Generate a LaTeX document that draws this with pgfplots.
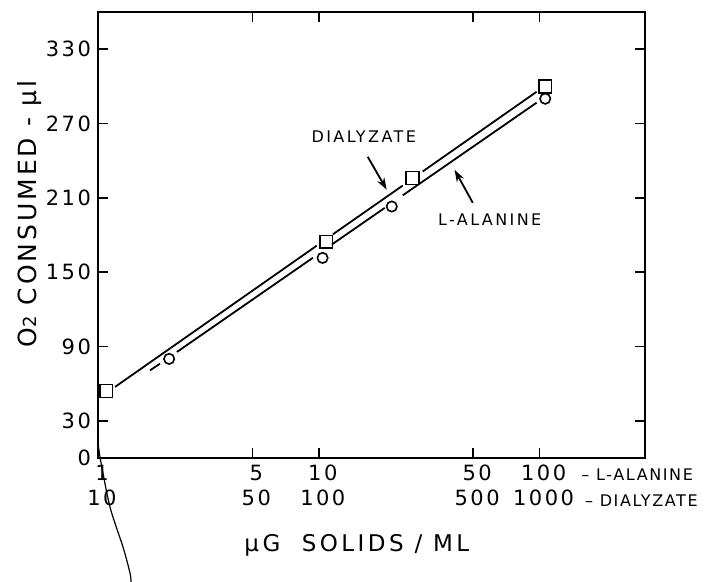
\documentclass[border=0pt]{standalone}
\usepackage{fontspec}
\setmainfont{DejaVu Sans}
\newfontfamily\spaced[LetterSpace=15]{DejaVu Sans}
\newfontfamily\smallspaced[LetterSpace=10]{DejaVu Sans}
\newfontfamily\wide[LetterSpace=12]{DejaVu Sans}
\usepackage{pgfplots}
\pgfplotsset{compat=1.18}
\usetikzlibrary{arrows.meta}
\begin{document}
\begin{tikzpicture}
\path[use as bounding box] (-49pt,-62pt) rectangle (305.5pt,229pt);
\begin{axis}[
  at={(0,0)}, anchor=south west,
  scale only axis, width=273.5pt, height=223pt,
  xmode=log, log basis x=10, xmin=1, xmax=300, ymin=0, ymax=360,
  clip=false,
  axis line style={line width=0.8pt},
  tick style={line width=0.8pt, black},
  major tick length=5pt,
  tick align=inside,
  xminorticks=false,
  xtick={1,5,10,50,100},
  xticklabels={1\\10,5\\50,10\\100,50\\500,100\\1000},
  ytick={0,30,90,150,210,270,330},
  yticklabels={0,30,90,150,210,270,330},
  xticklabel style={align=center, font=\wide\fontsize{10.5}{12.5}\selectfont, xshift=2pt},
  yticklabel style={font=\wide\fontsize{10.5}{12}\selectfont},
]
% DIALYZATE line (broken at the markers)
\addplot[line width=0.9pt] coordinates {(1.194,57.35) (9.79,171.4)};
\addplot[line width=0.9pt] coordinates {(11.57,180.5) (23.99,219.9)};
\addplot[line width=0.9pt] coordinates {(29.55,231.3) (96.9,295.6)};
% L-ALANINE line
\addplot[line width=0.9pt] coordinates {(1.719,70.7) (1.908,76.1)};
\addplot[line width=0.9pt] coordinates {(2.278,85.6) (9.40,161.6)};
\addplot[line width=0.9pt] coordinates {(11.45,172.3) (19.89,201.9)};
\addplot[line width=0.9pt] coordinates {(23.99,212.0) (96.9,286.8)};
% markers
\addplot[only marks, mark=square, mark size=3.2pt, mark options={line width=0.8pt, fill=white}]
  coordinates {(1.09,54) (10.8,174.5) (26.6,226) (106,300)};
\addplot[only marks, mark=o, mark size=2.6pt, mark options={line width=0.8pt, fill=white}]
  coordinates {(2.1,80) (10.4,161.5) (21.4,203) (106,290)};
% annotations
\node[font=\spaced\fontsize{8}{9}\selectfont] at (axis cs:15.98,259.3) {DIALYZATE};
\draw[line width=0.9pt, -{Stealth[length=6pt,width=4pt]}] (axis cs:16.66,243.1) -- (axis cs:20.3,216.5);
\node[font=\spaced\fontsize{8}{9}\selectfont] at (axis cs:59.4,192.2) {L-ALANINE};
\draw[line width=0.9pt, -{Stealth[length=6pt,width=4pt]}] (axis cs:49.8,206) -- (axis cs:41.2,232.6);
\node[font=\smallspaced\fontsize{8}{9}\selectfont, anchor=west, inner sep=0pt] at (axis cs:154,-13.7) {\textendash\ L-ALANINE};
\node[font=\smallspaced\fontsize{8}{9}\selectfont, anchor=west, inner sep=0pt] at (axis cs:160,-34.7) {\textendash\ DIALYZATE};
\node[font=\spaced\fontsize{11.5}{13}\selectfont] at (axis cs:14.86,-70.3) {µG\ \ SOLIDS / ML};
\node[font=\wide\fontsize{12.5}{14}\selectfont, rotate=90, anchor=west, inner sep=0pt] at (axis cs:0.492,88.9) {O{\fontsize{9}{9}\selectfont 2} CONSUMED - µl};
\end{axis}
\draw[line width=0.6pt] plot[smooth] coordinates {(0pt,9pt) (1pt,0.5pt) (6pt,-24.5pt) (12.5pt,-44.5pt) (16pt,-57.5pt) (16.5pt,-62pt)};
\end{tikzpicture}
\end{document}
